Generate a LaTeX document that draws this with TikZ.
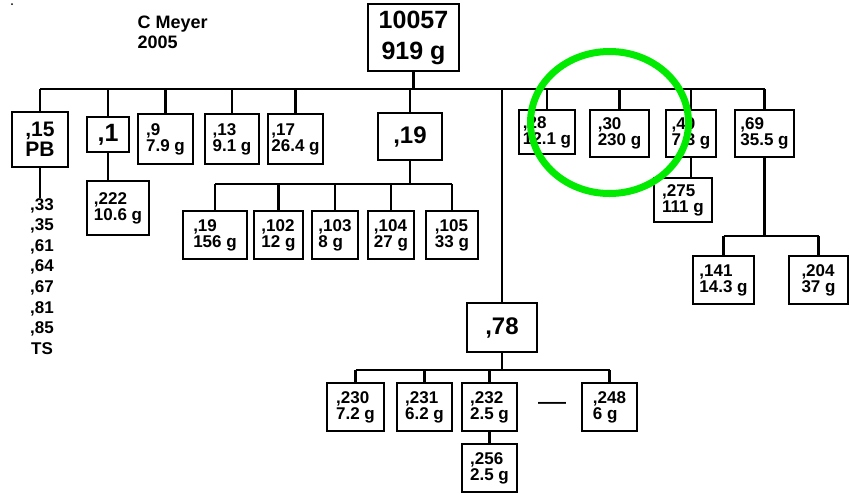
\documentclass[tikz,border=0pt]{standalone}
\usepackage{fontspec}
\setmainfont{Liberation Sans}
\begin{document}
\begin{tikzpicture}[x=1pt,y=-1pt,
  ln/.style={line width=2.2pt},
  box/.style={draw, line width=2pt, inner sep=0pt, align=left, font=\bfseries\fontsize{17}{16}\selectfont},
  bigbox/.style={draw, line width=2pt, inner sep=0pt, align=left, font=\bfseries\fontsize{23}{21}\selectfont},
  ring/.style={draw={rgb,255:red,0;green,235;blue,0}, line width=7pt}]
\useasboundingbox (0,0) rectangle (850,493);
\fill (12,4) circle (1);
\node[font=\bfseries\fontsize{18}{20}\selectfont, align=left, anchor=north west] (author) at (134,12) {C Meyer\\2005};
% root
\node[bigbox, minimum width=91, minimum height=67, align=center, font=\bfseries\fontsize{25}{31}\selectfont] (root) at (413.5,37.5) {10057\\919 g};
\coordinate (busY) at (0,89);
% level 1
\node[bigbox, minimum width=56, minimum height=55, align=center, font=\bfseries\fontsize{21}{20}\selectfont] (b15) at (40,139.5) {,15\\PB};
\node[bigbox, minimum width=42, minimum height=35, font=\bfseries\fontsize{25}{25}\selectfont] (b1) at (108,134.5) {,1};
\node[box, minimum width=55, minimum height=50] (b9) at (165.5,139) {,9\\7.9 g};
\node[box, minimum width=54, minimum height=50] (b13) at (232,139) {,13\\9.1 g};
\node[box, minimum width=55, minimum height=50] (b17) at (295.5,139) {,17\\26.4 g};
\node[bigbox, minimum width=64, minimum height=47, font=\bfseries\fontsize{24}{24}\selectfont] (b19) at (410,136.5) {,19};
\node[box, minimum width=56, minimum height=44] (b28) at (547,132) {,28\\12.1 g};
\node[box, minimum width=59, minimum height=47] (b30) at (619.5,133.5) {,30\\230 g};
\node[box, minimum width=50, minimum height=47] (b40) at (691,133.5) {,40\\7.3 g};
\node[box, minimum width=59, minimum height=47] (b69) at (764.5,133.5) {,69\\35.5 g};
\node[bigbox, minimum width=70, minimum height=49, font=\bfseries\fontsize{24}{24}\selectfont] (b78) at (502,327.5) {,78};
% under ,15
\node[anchor=north, align=center, inner sep=0pt, font=\bfseries\fontsize{17}{20.6}\selectfont] (list) at (42,198) {,33\\,35\\,61\\,64\\,67\\,81\\,85\\TS};
% under ,1
\node[box, minimum width=62, minimum height=54] (b222) at (118,208) {,222\\10.6 g};
% under ,19
\node[box, minimum width=64, minimum height=48] (a19) at (215,235) {,19\\156 g};
\node[box, minimum width=49, minimum height=48] (a102) at (278.5,235) {,102\\12 g};
\node[box, minimum width=46, minimum height=48] (a103) at (335,235) {,103\\8 g};
\node[box, minimum width=46, minimum height=48] (a104) at (391,235) {,104\\27 g};
\node[box, minimum width=52, minimum height=48] (a105) at (452,235) {,105\\33 g};
\coordinate (y19) at (0,184);
% under ,40 and ,69
\node[box, minimum width=58, minimum height=44] (b275) at (683,200) {,275\\111 g};
\node[box, minimum width=61, minimum height=48] (b141) at (723.5,280) {,141\\14.3 g};
\node[box, minimum width=59, minimum height=48] (b204) at (818.5,280) {,204\\37 g};
\coordinate (y69) at (0,236);
% under ,78
\node[box, minimum width=57, minimum height=48] (c230) at (355.5,407) {,230\\7.2 g};
\node[box, minimum width=55, minimum height=48] (c231) at (424.5,407) {,231\\6.2 g};
\node[box, minimum width=55, minimum height=48] (c232) at (489.5,407) {,232\\2.5 g};
\node[font=\fontsize{28}{28}\selectfont, inner sep=0pt] (dash) at (552,406) {—};
\node[box, minimum width=55, minimum height=48] (c248) at (609.5,407) {,248\\6 g};
\node[box, minimum width=55, minimum height=48] (c256) at (489.5,468) {,256\\2.5 g};
\coordinate (y78) at (0,370);
% connectors
\draw[ln] (b15.north |- busY) -- (b69.north |- busY);
\draw[ln] (root.south) -- (root.south |- busY);
\foreach \n in {b15,b1,b9,b13,b17,b19,b28,b30,b40,b69,b78}
  \draw[ln] (\n.north) -- (\n.north |- busY);
\draw[ln] (b15.south) -- (b15.south |- list.north);
\draw[ln] (b1.south) -- (b1.south |- b222.north);
\draw[ln] (a19.north |- y19) -- (a105.north |- y19);
\draw[ln] (b19.south) -- (b19.south |- y19);
\foreach \n in {a19,a102,a103,a104,a105}
  \draw[ln] (\n.north) -- (\n.north |- y19);
\draw[ln] (b40.south) -- (b40.south |- b275.north);
\draw[ln] (b141.north |- y69) -- (b204.north |- y69);
\draw[ln] (b69.south) -- (b69.south |- y69);
\foreach \n in {b141,b204}
  \draw[ln] (\n.north) -- (\n.north |- y69);
\draw[ln] (c230.north |- y78) -- (c248.north |- y78);
\draw[ln] (b78.south) -- (b78.south |- y78);
\foreach \n in {c230,c231,c232,c248}
  \draw[ln] (\n.north) -- (\n.north |- y78);
\draw[ln] (c232.south) -- (c256.north);
% highlight
\draw[ring] (609.5,122.5) ellipse [x radius=79, y radius=71];
\end{tikzpicture}
\end{document}
